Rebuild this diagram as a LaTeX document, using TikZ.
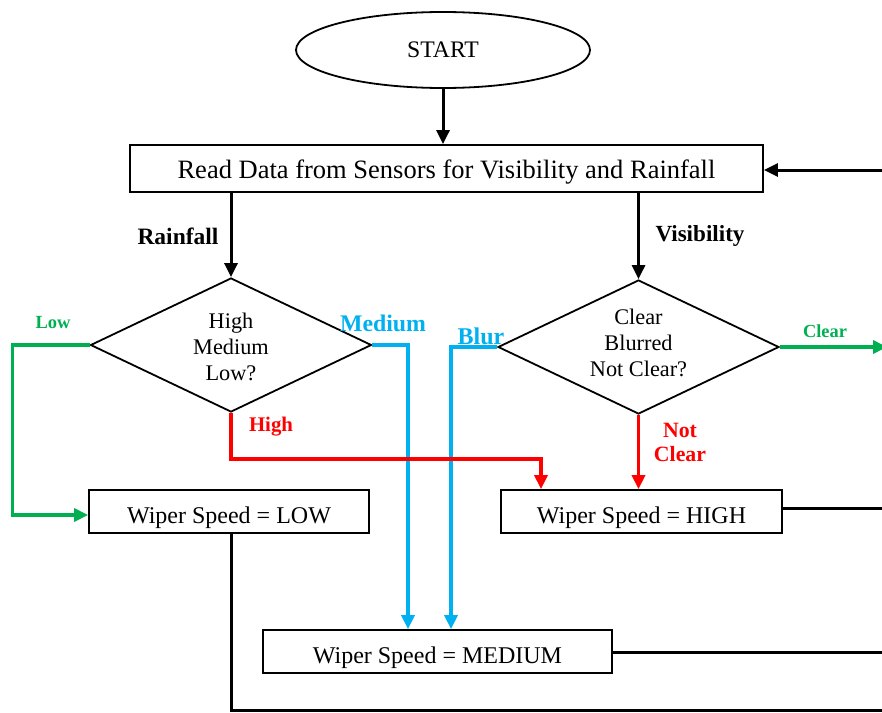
\documentclass[tikz,border=0pt]{standalone}
\usepackage{fontspec}
\setmainfont{Liberation Serif}
\usetikzlibrary{shapes.geometric,arrows.meta}
\definecolor{cgreen}{RGB}{0,176,80}
\definecolor{cblue}{RGB}{0,176,240}
\definecolor{cred}{RGB}{255,0,0}
\tikzset{
  box/.style={draw, line width=1.8pt, minimum height=43pt, inner sep=0pt, text height=23pt, text depth=0pt, font=\fontsize{24}{26}\selectfont},
  dia/.style={draw, diamond, line width=1.8pt, minimum width=281pt, minimum height=134pt, inner sep=0pt},
  diatext/.style={align=center, inner sep=0pt, font=\fontsize{22.3}{25.7}\selectfont},
  conn/.style={line width=3pt},
  cconn/.style={line width=3.5pt},
  tip/.style={-{Triangle[length=14pt,width=13pt]}},
  lab/.style={font=\bfseries\fontsize{#1}{#1}\selectfont, inner sep=0pt},
}
\begin{document}
\begin{tikzpicture}[x=1pt,y=-1pt]
\useasboundingbox (0,0) rectangle (882,712);
% nodes
\node[draw, ellipse, line width=1.8pt, minimum width=294pt, minimum height=76pt, font=\fontsize{23.7}{26}\selectfont] (start) at (443,50) {START};
\node[box, minimum width=633pt, minimum height=47pt, text height=19pt, font=\fontsize{26.5}{28}\selectfont] (read) at (446.5,168.5) {Read Data from Sensors for Visibility and Rainfall};
\node[dia] (d1) at (231,345) {};
\node[diatext] (d1t) at (231,347) {High\\Medium\\Low?};
\node[dia] (d2) at (638.5,347) {};
\node[diatext] (d2t) at (638.5,343) {Clear\\Blurred\\Not Clear?};
\node[box, minimum width=280pt] (low) at (229,511.5) {Wiper Speed = LOW};
\node[box, minimum width=281pt] (high) at (641.5,511.5) {Wiper Speed = HIGH};
\node[box, minimum width=349pt] (med) at (437.5,651.5) {Wiper Speed = MEDIUM};
% off-picture coordinates
\coordinate (retin) at (892,170);
\coordinate (clearout) at (887,347);
\coordinate (highout) at (892,508);
\coordinate (medout) at (892,652);
\coordinate (lowout) at (892,710);
% black connectors
\draw[conn,tip] (start.south) -- (start.south |- read.north);
\draw[conn,tip] (retin) -- (retin -| read.east);
\draw[conn,tip] ([xshift=-215.5pt]read.south) -- (d1.north);
\draw[conn,tip] ([xshift=192pt]read.south) -- (d2.north);
\draw[conn] (high.east |- highout) -- (highout);
\draw[conn] (med.east |- medout) -- (medout);
\draw[conn] ([xshift=2pt]low.south) |- (lowout);
% coloured connectors
\draw[cconn,cgreen,tip] (d1.west) -- ++(-77,0) |- ([yshift=-3.5pt]low.west);
\draw[cconn,cblue,tip] (d1.east) -| ([xshift=-29.5pt]med.north);
\draw[cconn,cblue,tip] (d2.west) -| ([xshift=13.5pt]med.north);
\draw[cconn,cred,tip] (d1.south) -- ++(0,46) -| ([xshift=-100.5pt]high.north);
\draw[cconn,cred,tip] (d2.south) -- (d2.south |- high.north);
\draw[cconn,cgreen,tip] (d2.east) -- (clearout);
% labels
\node[lab=23.5] (lrain) at (178,236) {Rainfall};
\node[lab=23.1] (lvis) at (700,236) {Visibility};
\node[lab=18.5, text=cgreen] (llow) at (53,323) {Low};
\node[lab=23.8, text=cblue] (lmed) at (383,323) {Medium};
\node[lab=20.8, text=cred] (lhigh) at (271,427) {High};
\node[lab=24, text=cblue] (lblur) at (481,336) {Blur};
\node[lab=18.4, text=cgreen] (lclear) at (825,331) {Clear};
\node[lab=21.8, text=cred, align=center, font=\bfseries\fontsize{21.8}{24}\selectfont] (lnc) at (680,442) {Not\\Clear};
\end{tikzpicture}
\end{document}
